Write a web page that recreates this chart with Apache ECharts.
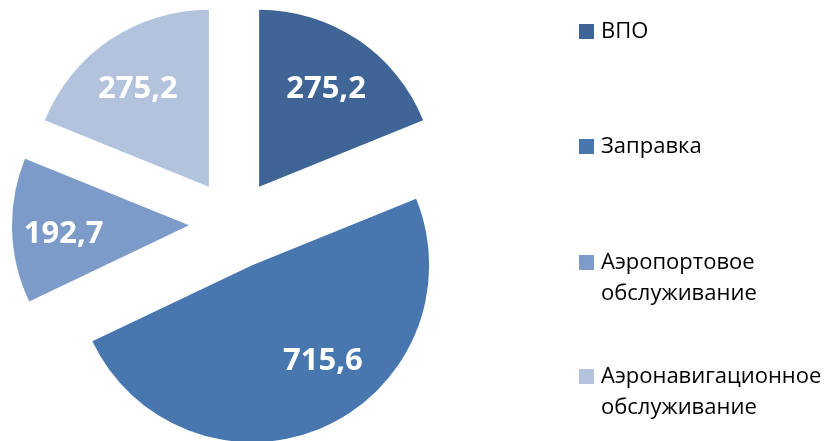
<!DOCTYPE html>
<html><head><meta charset="utf-8">
<script src="https://cdn.jsdelivr.net/npm/echarts@6/dist/echarts.min.js"></script>
<style>html,body{margin:0;padding:0;background:#fff}#c{width:832px;height:441px}</style>
</head><body><div id="c"></div>
<script>
const categories = ['ВПО', 'Заправка', 'Аэропортовое обслуживание', 'Аэронавигационное обслуживание'];
const legendLabels = ['ВПО', 'Заправка', 'Аэропортовое\nобслуживание', 'Аэронавигационное\nобслуживание'];
const values = [275.2, 715.6, 192.7, 275.2];
const colors = ['#3E6596', '#4877B0', '#7C9BC8', '#B3C3DE'];

const fmt = v => String(v.toFixed(1)).replace('.', ',');
const center = [234, 224];
const R = 177;
const explode = 45;

const pieData = categories.map((n, i) => ({ name: n, value: values[i], selected: true, itemStyle: { color: colors[i] } }));

const legendTops = [16, 131, 247, 361];
const twoLineIcon = 'path://M0,0H15V15H0Z M0,46L0.01,46';
const legends = categories.map((n, i) => ({
  orient: 'vertical', left: 579, top: legendTops[i], padding: 0,
  data: [{ name: n, icon: legendLabels[i].includes('\n') ? twoLineIcon : 'rect' }],
  itemWidth: 15, itemHeight: legendLabels[i].includes('\n') ? 46 : 15,
  itemGap: 0, selectedMode: false,
  itemStyle: { borderWidth: 0 },
  formatter: () => legendLabels[i],
  textStyle: { fontFamily: 'Open Sans', fontSize: 22, color: '#000', lineHeight: 31, padding: [0, 0, 0, 2] }
}));

const chart = echarts.init(document.getElementById('c'), null, { renderer: 'canvas' });
chart.setOption({
  animation: false,
  backgroundColor: '#fff',
  legend: legends,
  series: [
    {
      type: 'pie', center: center, radius: [0, R], startAngle: 90, clockwise: true,
      selectedMode: 'multiple', selectedOffset: explode,
      silent: true,
      itemStyle: { borderWidth: 0 },
      label: { show: false }, labelLine: { show: false },
      emphasis: { disabled: true },
      data: pieData
    },
    {
      type: 'pie', center: center, radius: [R * 0.36, R], startAngle: 90, clockwise: true,
      selectedMode: 'multiple', selectedOffset: explode,
      silent: true, legendHoverLink: false,
      itemStyle: { color: 'rgba(0,0,0,0)', borderWidth: 0 },
      label: {
        show: true, position: 'inside', color: '#fff', fontFamily: 'Open Sans',
        fontWeight: 'bold', fontSize: 31, formatter: p => fmt(p.value)
      },
      labelLine: { show: false },
      emphasis: { disabled: true },
      labelLayout: p => (p.dataIndex === 1 ? { dx: 21, dy: -17 } : { dx: -2, dy: 5 }),
      data: pieData.map(d => ({ name: d.name, value: d.value, selected: true, itemStyle: { color: 'rgba(0,0,0,0)' } }))
    }
  ]
});
</script></body></html>
